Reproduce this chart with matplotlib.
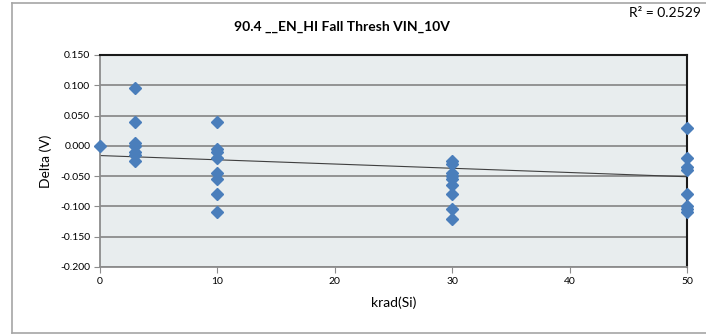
import numpy as np
import matplotlib
matplotlib.use("Agg")
import matplotlib.pyplot as plt
from matplotlib.lines import Line2D

plt.rcParams['font.family'] = ['Lato', 'DejaVu Sans']

# Data (krad(Si) dose, delta in V)
x_0 = [0]
y_0 = [0.000]
x_3 = [3] * 7
y_3 = [0.095, 0.040, 0.005, 0.000, -0.010, -0.015, -0.025]
x_10 = [10] * 8
y_10 = [0.040, -0.005, -0.010, -0.020, -0.045, -0.055, -0.080, -0.110]
x_30 = [30] * 9
y_30 = [-0.025, -0.030, -0.045, -0.050, -0.055, -0.065, -0.080, -0.105, -0.120]
x_50 = [50] * 8
y_50 = [0.030, -0.020, -0.035, -0.040, -0.080, -0.100, -0.105, -0.110]

# Linear trendline as displayed
trend_x = [0, 50]
trend_y = [-0.016, -0.051]
r2_label = "R² = 0.2529"

title = "90.4 __EN_HI Fall Thresh VIN_10V"
xlabel = "krad(Si)"
ylabel = "Delta (V)"
xticks = [0, 10, 20, 30, 40, 50]
yticks = [0.150, 0.100, 0.050, 0.000, -0.050, -0.100, -0.150, -0.200]

xs = x_0 + x_3 + x_10 + x_30 + x_50
ys = y_0 + y_3 + y_10 + y_30 + y_50

W, H = 706, 335
fig = plt.figure(figsize=(W / 100, H / 100), dpi=100)
fig.patch.set_facecolor('white')

ax = fig.add_axes([100 / W, 1 - 267 / H, 587 / W, 212 / H])
ax.set_facecolor('#E8EDEE')
ax.set_xlim(0, 50)
ax.set_ylim(-0.200, 0.150)

for yv in yticks:
    ax.axhline(yv, color='#8C8C8C', lw=1.3, zorder=1)

ax.plot(trend_x, trend_y, color='#404040', lw=0.8, zorder=2)
ax.plot(xs, ys, linestyle='none', marker='D', markersize=6.6,
        color='#4A7EBB', markeredgecolor='#4A7EBB', zorder=3, clip_on=False)

ax.set_xticks(xticks)
ax.set_xticklabels([str(v) for v in xticks], fontsize=7.5)
ax.set_yticks(yticks)
ax.set_yticklabels([f"{v:.3f}" for v in yticks], fontsize=7.5)
ax.tick_params(direction='out', length=4, color='#8C8C8C', pad=3)

for s in ['left', 'bottom']:
    ax.spines[s].set_color('#8C8C8C')
    ax.spines[s].set_linewidth(1.3)
for s in ['top', 'right']:
    ax.spines[s].set_color('#1A1A1A')
    ax.spines[s].set_linewidth(1.5)

ax.set_xlabel(xlabel, fontsize=10, labelpad=8)
ax.set_ylabel(ylabel, fontsize=10, labelpad=6)

fig.text(342 / W, 1 - 27 / H, title, ha='center', va='center',
         fontsize=10, fontweight='bold')
fig.text(701 / W, 1 - 13 / H, r2_label, ha='right', va='center', fontsize=10)

# chart area frame
frame_color = '#A6A6A6'
fig.add_artist(Line2D([12 / W, 12 / W], [1 - 3 / H, 1 - 333 / H], color=frame_color, lw=1.2, transform=fig.transFigure))
fig.add_artist(Line2D([12 / W, 1.0], [1 - 3 / H, 1 - 3 / H], color=frame_color, lw=1.2, transform=fig.transFigure))
fig.add_artist(Line2D([12 / W, 1.0], [1 - 333 / H, 1 - 333 / H], color=frame_color, lw=1.2, transform=fig.transFigure))

fig.savefig("out.png", dpi=100)
